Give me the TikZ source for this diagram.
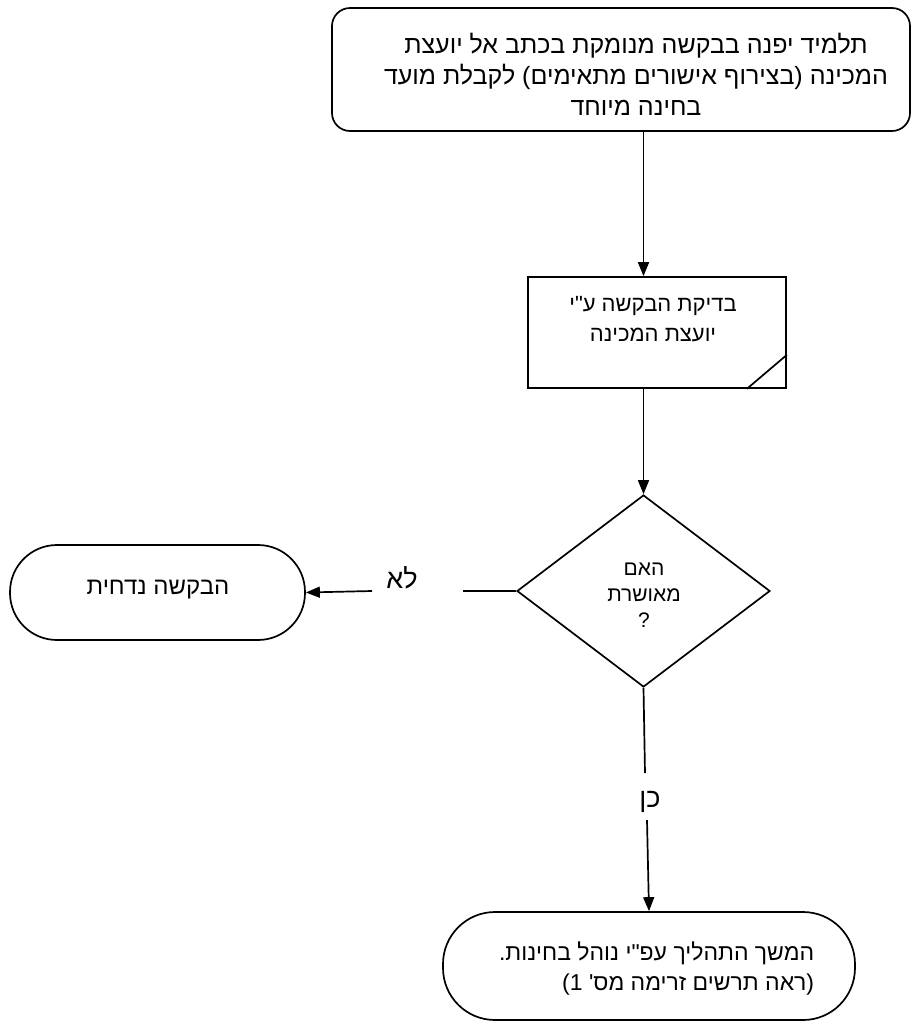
\documentclass[tikz,border=0pt]{standalone}
\usepackage{fontspec}
\setmainfont{Liberation Sans}
\newfontfamily\heb[Script=Hebrew,Ligatures=TeXOff]{Liberation Sans}
\TeXXeTstate=1
\newcommand\RL[1]{\beginR #1\endR}
\usetikzlibrary{arrows.meta,calc,shapes.geometric}
\begin{document}
\begin{tikzpicture}[x=1pt,y=-1pt,line width=1.7pt,
  box/.style={draw,line width=1.7pt,inner sep=0pt},
  arr/.style={-{Triangle[length=14pt,width=11pt]}},
  txt/.style={font=\heb\fontsize{23}{30}\selectfont,align=center,inner sep=0pt},
  dtxt/.style={font=\heb\fontsize{21}{26}\selectfont,align=center,inner sep=0pt},
  lbl/.style={font=\heb\fontsize{27}{30}\selectfont,inner sep=0pt}]
\useasboundingbox (0,0) rectangle (912,1021);

% start box
\node[box,rounded corners=18pt,minimum width=578pt,minimum height=123pt] (start) at (621,69.5) {};
\node[txt,font=\heb\fontsize{25}{31}\selectfont] (startT) at (636,74) {\RL{תלמיד יפנה בבקשה מנומקת בכתב אל יועצת}\\\RL{המכינה (בצירוף אישורים מתאימים) לקבלת מועד}\\\RL{בחינה מיוחד}};

% document box
\node[box,minimum width=258pt,minimum height=111pt] (doc) at (657,332.5) {};
\draw ($(doc.south east)+(-40,0)$) -- ($(doc.south east)+(0,-34)$);
\node[txt,font=\heb\fontsize{22}{30}\selectfont] (docT) at (653,319) {\RL{בדיקת הבקשה ע"י}\\\RL{יועצת המכינה}};

% decision
\node[box,diamond,minimum width=253pt,minimum height=192pt] (dec) at (643.5,591) {};
\node[dtxt] (decT) at (644,595) {\RL{האם}\\\RL{מאושרת}\\?};

% rejected
\node[box,rounded corners=47pt,minimum width=295pt,minimum height=95pt] (rej) at (157.5,592.5) {};
\node[txt,font=\heb\fontsize{24}{30}\selectfont] (rejT) at (158,590) {\RL{הבקשה נדחית}};

% end
\node[box,rounded corners=52pt,minimum width=412pt,minimum height=108pt] (end) at (649,966) {};
\node[txt,align=right,anchor=east] (endT) at (815,969) {\RL{המשך התהליך עפ"י נוהל בחינות.}\\\RL{(ראה תרשים זרימה מס' 1)}};

% connectors
\draw[arr] (start.south -| dec.north) -- (doc.north -| dec.north);
\draw[arr] (doc.south -| dec.north) -- (dec.north);

\coordinate (noA) at (463,591);
\coordinate (noB) at (372,591);
\draw (dec.west) -- (noA);
\node[lbl] (no) at (402,578) {\RL{לא}};
\draw[arr] (noB) -- (rej.east);

\coordinate (yesA) at (645,773);
\coordinate (yesB) at (647,820);
\draw (dec.south) -- (yesA);
\node[lbl] (yes) at (650,802) {\RL{כן}};
\draw[arr] (yesB) -- (end.north);
\end{tikzpicture}
\end{document}
